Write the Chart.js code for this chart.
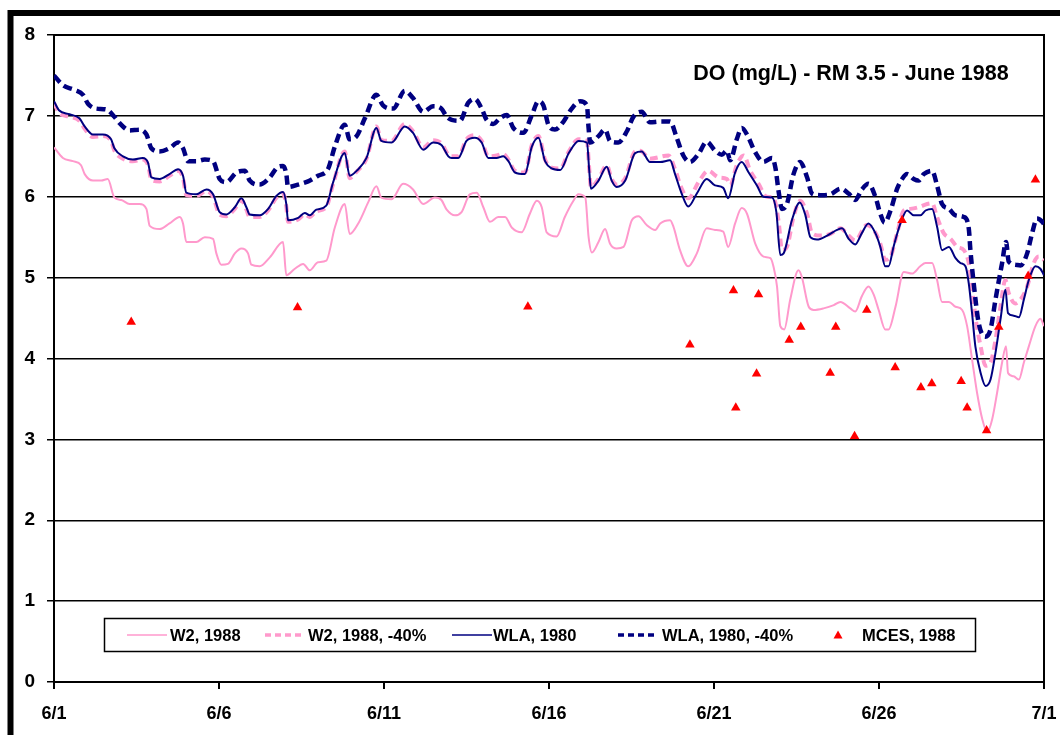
<!DOCTYPE html>
<html>
<head>
<meta charset="utf-8">
<title>DO (mg/L) - RM 3.5 - June 1988</title>
<script src="https://cdn.jsdelivr.net/npm/chart.js@4.4.1/dist/chart.umd.min.js"></script>
<style>
  html, body { margin: 0; padding: 0; background: #fff; }
  #doChart { display: block; }
</style>
</head>
<body>
<canvas id="doChart" width="1060" height="735"></canvas>
<script>
// [day after 6/1, DO mg/L]
const w2_1988 = [
  [0,6.61],[0.27,6.48],[0.57,6.44],[0.82,6.39],[0.93,6.28],[1.18,6.20],[1.43,6.20],[1.63,6.22],[1.83,5.99],[2.04,5.96],
  [2.29,5.91],[2.59,5.91],[2.8,5.85],[2.9,5.64],[3.2,5.60],[3.5,5.67],[3.81,5.75],[3.91,5.67],[4.01,5.44],[4.31,5.44],
  [4.57,5.50],[4.82,5.48],[4.92,5.30],[5.07,5.16],[5.27,5.17],[5.48,5.30],[5.68,5.36],[5.88,5.30],[5.98,5.16],[6.23,5.14],
  [6.54,5.25],[6.94,5.44],[7.04,5.03],[7.3,5.11],[7.55,5.17],[7.75,5.09],[8.0,5.19],[8.25,5.21],[8.51,5.62],[8.81,5.91],
  [8.96,5.54],[9.22,5.67],[9.52,5.93],[9.77,6.13],[9.92,5.99],[10.23,5.97],[10.58,6.16],[10.88,6.09],[11.19,5.91],[11.54,5.99],
  [11.74,5.96],[11.9,5.84],[12.15,5.77],[12.35,5.81],[12.6,6.03],[12.81,6.05],[13.01,5.87],[13.21,5.69],[13.46,5.75],[13.67,5.75],
  [13.87,5.62],[14.17,5.56],[14.42,5.79],[14.63,5.95],[14.78,5.87],[14.93,5.56],[15.23,5.51],[15.48,5.75],[15.74,5.95],[15.89,6.03],
  [16.1,5.99],[16.2,5.50],[16.3,5.31],[16.5,5.44],[16.7,5.60],[16.85,5.42],[17.05,5.36],[17.26,5.38],[17.51,5.71],[17.71,5.76],
  [17.96,5.65],[18.22,5.59],[18.37,5.67],[18.67,5.71],[18.77,5.63],[18.97,5.34],[19.22,5.14],[19.48,5.30],[19.78,5.61],[20.03,5.59],
  [20.28,5.57],[20.43,5.38],[20.64,5.67],[20.84,5.86],[21.0,5.79],[21.25,5.42],[21.5,5.26],[21.71,5.24],[21.8,5.14],[21.91,4.89],
  [22.01,4.40],[22.13,4.36],[22.31,4.73],[22.56,5.09],[22.66,5.01],[22.87,4.64],[23.02,4.60],[23.32,4.62],[23.63,4.66],[23.83,4.70],
  [24.13,4.62],[24.28,4.58],[24.48,4.77],[24.68,4.89],[24.84,4.79],[24.99,4.60],[25.19,4.36],[25.29,4.36],[25.5,4.64],[25.75,5.07],
  [26.0,5.05],[26.25,5.14],[26.41,5.18],[26.61,5.18],[26.76,4.97],[26.91,4.70],[27.12,4.70],[27.32,4.64],[27.52,4.60],[27.67,4.40],
  [27.82,3.99],[27.97,3.58],[28.13,3.25],[28.28,3.09],[28.43,3.25],[28.58,3.58],[28.73,3.95],[28.85,4.15],[28.91,3.82],[29.08,3.78],
  [29.24,3.74],[29.39,3.95],[29.54,4.15],[29.74,4.40],[29.89,4.49],[30,4.40]
];

const w2_1988_cut = [
  [0,7.16],[0.15,7.04],[0.47,6.99],[0.77,6.94],[0.93,6.84],[1.18,6.74],[1.48,6.75],[1.73,6.69],[1.83,6.57],[2.09,6.47],
  [2.39,6.44],[2.69,6.46],[2.85,6.39],[2.95,6.21],[3.2,6.19],[3.5,6.26],[3.76,6.32],[3.91,6.23],[4.01,6.02],[4.31,6.01],
  [4.62,6.07],[4.82,6.00],[5.02,5.78],[5.22,5.76],[5.48,5.85],[5.68,5.96],[5.83,5.84],[5.93,5.75],[6.23,5.75],[6.49,5.83],
  [6.74,5.99],[6.94,6.04],[7.04,5.88],[7.09,5.69],[7.40,5.72],[7.6,5.78],[7.75,5.75],[7.95,5.82],[8.25,5.87],[8.46,6.16],
  [8.81,6.56],[8.96,6.23],[9.17,6.31],[9.47,6.47],[9.77,6.87],[9.92,6.70],[10.23,6.69],[10.63,6.90],[10.88,6.81],[11.19,6.61],
  [11.49,6.70],[11.74,6.66],[11.95,6.52],[12.05,6.50],[12.25,6.50],[12.5,6.71],[12.75,6.76],[12.96,6.69],[13.16,6.50],[13.41,6.51],
  [13.61,6.53],[13.77,6.46],[13.97,6.32],[14.27,6.30],[14.48,6.64],[14.68,6.75],[14.88,6.46],[15.08,6.36],[15.34,6.35],[15.6,6.56],
  [15.9,6.71],[16.15,6.69],[16.22,6.34],[16.27,6.12],[16.5,6.22],[16.75,6.39],[16.9,6.22],[17.05,6.15],[17.31,6.23],[17.61,6.56],
  [17.76,6.57],[18.06,6.47],[18.62,6.51],[18.82,6.34],[19.02,6.10],[19.22,5.98],[19.53,6.18],[19.83,6.32],[20.14,6.24],[20.39,6.22],
  [20.49,6.14],[20.69,6.39],[20.9,6.51],[21.1,6.32],[21.35,6.16],[21.6,6.00],[21.8,5.99],[21.96,5.69],[22.06,5.34],[22.21,5.38],
  [22.41,5.75],[22.61,5.95],[22.82,5.79],[22.97,5.55],[23.22,5.52],[23.53,5.54],[23.83,5.61],[24.08,5.52],[24.28,5.46],[24.63,5.65],
  [24.84,5.59],[25.04,5.42],[25.19,5.22],[25.35,5.26],[25.55,5.55],[25.75,5.83],[25.95,5.85],[26.2,5.87],[26.46,5.91],[26.61,5.92],
  [26.76,5.75],[26.96,5.55],[27.17,5.48],[27.37,5.38],[27.57,5.34],[27.72,5.18],[27.82,4.89],[27.92,4.52],[28.08,4.15],[28.23,3.91],
  [28.38,3.95],[28.53,4.23],[28.68,4.64],[28.83,4.97],[28.93,4.81],[29.13,4.68],[29.29,4.73],[29.49,4.89],[29.69,5.18],[29.84,5.26],
  [30,5.22]
];

const wla_1980 = [
  [0,7.18],[0.15,7.07],[0.47,7.02],[0.77,6.97],[0.93,6.87],[1.18,6.77],[1.48,6.77],[1.73,6.71],[1.83,6.60],[2.09,6.50],
  [2.39,6.46],[2.69,6.48],[2.85,6.42],[2.95,6.24],[3.2,6.22],[3.5,6.28],[3.76,6.34],[3.91,6.26],[4.01,6.05],[4.31,6.03],
  [4.62,6.09],[4.82,6.03],[5.02,5.81],[5.22,5.78],[5.48,5.87],[5.68,5.98],[5.83,5.87],[5.93,5.78],[6.23,5.77],[6.49,5.85],
  [6.74,6.01],[6.94,6.06],[7.04,5.91],[7.09,5.71],[7.40,5.74],[7.6,5.80],[7.75,5.77],[7.95,5.84],[8.25,5.89],[8.46,6.18],
  [8.81,6.54],[8.96,6.26],[9.17,6.32],[9.47,6.48],[9.77,6.85],[9.92,6.69],[10.23,6.67],[10.63,6.87],[10.88,6.79],[11.19,6.58],
  [11.49,6.67],[11.74,6.64],[11.95,6.50],[12.05,6.48],[12.25,6.48],[12.5,6.69],[12.75,6.73],[12.96,6.67],[13.16,6.48],[13.41,6.48],
  [13.61,6.50],[13.77,6.44],[13.97,6.30],[14.27,6.28],[14.48,6.62],[14.68,6.73],[14.88,6.44],[15.08,6.35],[15.34,6.33],[15.6,6.54],
  [15.9,6.69],[16.15,6.67],[16.22,6.32],[16.27,6.10],[16.5,6.20],[16.75,6.37],[16.9,6.20],[17.05,6.12],[17.31,6.20],[17.61,6.54],
  [17.81,6.56],[18.06,6.43],[18.37,6.43],[18.67,6.45],[18.82,6.28],[19.02,6.04],[19.22,5.88],[19.48,6.04],[19.78,6.22],[20.03,6.14],
  [20.28,6.11],[20.43,5.98],[20.64,6.30],[20.84,6.43],[21.05,6.30],[21.3,6.14],[21.5,6.00],[21.76,5.99],[21.89,5.81],[22.01,5.28],
  [22.11,5.30],[22.36,5.71],[22.6,5.93],[22.77,5.77],[22.92,5.50],[23.12,5.47],[23.43,5.52],[23.73,5.59],[23.88,5.61],[24.08,5.48],
  [24.28,5.41],[24.48,5.55],[24.68,5.67],[24.89,5.55],[25.04,5.38],[25.19,5.14],[25.29,5.14],[25.44,5.38],[25.65,5.67],[25.85,5.83],
  [26.05,5.77],[26.25,5.77],[26.41,5.83],[26.61,5.85],[26.76,5.63],[26.91,5.34],[27.12,5.38],[27.32,5.24],[27.47,5.18],[27.62,5.14],
  [27.72,4.93],[27.82,4.56],[27.92,4.15],[28.08,3.82],[28.23,3.66],[28.38,3.74],[28.53,4.07],[28.68,4.48],[28.83,4.85],[28.91,4.56],
  [29.08,4.53],[29.24,4.51],[29.39,4.73],[29.54,4.97],[29.74,5.14],[29.89,5.11],[30,5.03]
];

const wla_1980_cut = [
  [0,7.50],[0.27,7.38],[0.62,7.32],[0.88,7.26],[1.03,7.15],[1.28,7.09],[1.58,7.08],[1.83,6.99],[1.99,6.91],[2.29,6.82],
  [2.59,6.83],[2.8,6.77],[2.95,6.60],[3.2,6.56],[3.5,6.60],[3.76,6.67],[3.91,6.60],[4.06,6.44],[4.31,6.44],[4.57,6.46],
  [4.82,6.44],[5.02,6.22],[5.22,6.18],[5.53,6.30],[5.78,6.32],[5.93,6.20],[6.23,6.15],[6.54,6.24],[6.79,6.37],[6.94,6.38],
  [7.04,6.28],[7.09,6.12],[7.40,6.15],[7.70,6.19],[8.0,6.26],[8.3,6.34],[8.51,6.62],[8.81,6.89],[8.96,6.71],[9.17,6.75],
  [9.42,6.97],[9.77,7.26],[9.97,7.13],[10.28,7.09],[10.63,7.31],[10.88,7.22],[11.19,7.05],[11.49,7.12],[11.74,7.09],[11.9,6.99],
  [12.05,6.95],[12.30,6.94],[12.55,7.16],[12.75,7.21],[12.96,7.09],[13.11,6.95],[13.31,6.90],[13.51,6.97],[13.72,7.01],[13.92,6.85],
  [14.22,6.79],[14.48,7.01],[14.68,7.18],[14.83,7.13],[14.98,6.89],[15.18,6.83],[15.44,6.93],[15.69,7.09],[15.94,7.18],[16.15,7.13],
  [16.2,6.85],[16.25,6.67],[16.5,6.75],[16.7,6.83],[16.85,6.69],[17.1,6.67],[17.36,6.81],[17.56,6.99],[17.81,7.05],[18.06,6.92],
  [18.37,6.93],[18.67,6.93],[18.87,6.73],[19.07,6.51],[19.27,6.43],[19.53,6.53],[19.78,6.68],[20.03,6.57],[20.24,6.52],[20.39,6.57],
  [20.49,6.45],[20.69,6.71],[20.84,6.85],[21.0,6.77],[21.25,6.55],[21.5,6.43],[21.76,6.48],[21.86,6.36],[21.96,6.06],[22.06,5.85],
  [22.21,5.91],[22.41,6.28],[22.61,6.43],[22.82,6.24],[22.97,6.04],[23.22,6.02],[23.53,6.03],[23.83,6.10],[24.08,6.04],[24.28,5.96],
  [24.48,6.09],[24.68,6.16],[24.89,6.00],[25.04,5.79],[25.17,5.68],[25.35,5.83],[25.55,6.10],[25.7,6.22],[25.85,6.28],[26.05,6.22],
  [26.2,6.20],[26.36,6.28],[26.61,6.32],[26.76,6.14],[26.91,5.91],[27.12,5.85],[27.32,5.77],[27.57,5.75],[27.72,5.61],[27.77,5.34],
  [27.88,4.89],[28.02,4.44],[28.22,4.27],[28.38,4.36],[28.53,4.73],[28.73,5.18],[28.85,5.44],[28.93,5.20],[29.13,5.16],[29.29,5.15],
  [29.49,5.30],[29.64,5.55],[29.79,5.73],[29.95,5.69],[30,5.66]
];

const mces_1988 = [
  [2.34,4.45],[7.38,4.63],[14.36,4.64],[19.27,4.17],[20.59,4.84],[20.66,3.39],[21.29,3.81],[21.35,4.79],
  [22.28,4.23],[22.63,4.39],[23.52,3.82],[23.69,4.39],[24.26,3.04],[24.63,4.60],[25.49,3.89],[25.70,5.71],
  [26.27,3.64],[26.6,3.69],[27.49,3.72],[27.67,3.39],[28.26,3.11],[28.63,4.39],[29.52,5.02],[29.74,6.21]
];

const tickLabels = ['6/1', '6/6', '6/11', '6/16', '6/21', '6/26', '7/1'];
const seriesNames = ['W2, 1988', 'W2, 1988, -40%', 'WLA, 1980', 'WLA, 1980, -40%', 'MCES, 1988'];
const titleText = 'DO (mg/L) - RM 3.5 - June 1988';

const PINK = '#ff99cc';
const NAVY = '#000080';
const RED = '#ff0000';
const FONT = '"Liberation Sans", Arial, sans-serif';

function toPoints(pairs) {
    return pairs.map(p => ({ x: p[0], y: p[1] }));
}

// outer frame, plot border and title
const framePlugin = {
    id: 'frame',
    beforeDraw(chart) {
        let c = chart.ctx;
        c.save();
        c.fillStyle = '#fff';
        c.fillRect(0, 0, chart.width, chart.height);
        c.strokeStyle = '#000';
        c.lineWidth = 6;
        c.strokeRect(10.5, 13, chart.width + 40, chart.height + 40);
        c.restore();
    },
    beforeDatasetsDraw(chart) {
        let a = chart.chartArea;
        let c = chart.ctx;
        c.save();
        c.strokeStyle = '#000';
        c.lineWidth = 2;
        c.strokeRect(a.left, a.top, a.right - a.left, a.bottom - a.top);
        c.restore();
    },
    afterDraw(chart) {
        let c = chart.ctx;
        c.save();
        c.fillStyle = '#000';
        c.font = 'bold 21.5px ' + FONT;
        c.textAlign = 'center';
        c.textBaseline = 'middle';
        c.fillText(titleText, 851, 74);
        c.restore();
    }
};

// boxed legend inside the plot, one row
const legendPlugin = {
    id: 'boxLegend',
    afterDraw(chart) {
        let c = chart.ctx;
        let y = 635;
        let items = [
            { line: 127, text: 170 },
            { line: 265, text: 308 },
            { line: 452, text: 493 },
            { line: 618, text: 662 },
            { line: 838, text: 862 }
        ];
        c.save();
        c.fillStyle = '#fff';
        c.fillRect(104, 618, 871, 33);
        c.strokeStyle = '#000';
        c.lineWidth = 1.5;
        c.strokeRect(104.5, 618.5, 871, 33);
        chart.data.datasets.forEach((ds, i) => {
            let it = items[i];
            if (ds.showLine === false) {
                c.fillStyle = ds.pointBackgroundColor;
                c.beginPath();
                c.moveTo(it.line, y - 4.5);
                c.lineTo(it.line + 4.5, y + 3.5);
                c.lineTo(it.line - 4.5, y + 3.5);
                c.closePath();
                c.fill();
            } else {
                c.strokeStyle = ds.borderColor;
                c.lineWidth = ds.borderDash ? 3.5 : 1.5;
                c.setLineDash(ds.borderDash ? [6, 4] : []);
                c.beginPath();
                c.moveTo(it.line, y);
                c.lineTo(it.line + 40, y);
                c.stroke();
                c.setLineDash([]);
            }
            c.fillStyle = '#000';
            c.font = 'bold 16.5px ' + FONT;
            c.textAlign = 'left';
            c.textBaseline = 'middle';
            c.fillText(ds.label, it.text, y + 1);
        });
        c.restore();
    }
};

let ctx = document.getElementById('doChart').getContext('2d');
let doChart = new Chart(ctx, {
    type: 'line',
    data: {
        datasets: [
            {
                label: seriesNames[0],
                data: toPoints(w2_1988),
                borderColor: PINK,
                borderWidth: 2,
                pointRadius: 0,
                order: 4
            },
            {
                label: seriesNames[1],
                data: toPoints(w2_1988_cut),
                borderColor: PINK,
                borderWidth: 4,
                borderDash: [8, 5],
                pointRadius: 0,
                order: 3
            },
            {
                label: seriesNames[2],
                data: toPoints(wla_1980),
                borderColor: NAVY,
                borderWidth: 2,
                pointRadius: 0,
                order: 2
            },
            {
                label: seriesNames[3],
                data: toPoints(wla_1980_cut),
                borderColor: NAVY,
                borderWidth: 4.5,
                borderDash: [9, 5],
                pointRadius: 0,
                order: 1
            },
            {
                label: seriesNames[4],
                data: toPoints(mces_1988),
                showLine: false,
                pointStyle: 'triangle',
                pointRadius: 5.5,
                pointBackgroundColor: RED,
                pointBorderColor: RED,
                pointBorderWidth: 0,
                order: 0
            }
        ]
    },
    options: {
        responsive: false,
        animation: false,
        devicePixelRatio: 1,
        layout: { padding: { top: 35, right: 16, bottom: 0, left: 0 } },
        elements: { line: { cubicInterpolationMode: 'monotone' } },
        plugins: {
            legend: { display: false },
            tooltip: { enabled: false }
        },
        scales: {
            x: {
                type: 'linear',
                min: 0,
                max: 30,
                afterFit: function(scale) {
                    scale.height = 53;
                    scale.paddingLeft = 0;
                    scale.paddingRight = 0;
                },
                border: { display: true, color: '#000', width: 2 },
                grid: { drawOnChartArea: false, drawTicks: true, tickLength: 7, color: '#000', lineWidth: 2 },
                ticks: {
                    stepSize: 5,
                    autoSkip: false,
                    maxRotation: 0,
                    padding: 14,
                    color: '#000',
                    font: { family: FONT, size: 18, weight: 'bold' },
                    callback: function(value) {
                        return tickLabels[value / 5] || '';
                    }
                }
            },
            y: {
                min: 0,
                max: 8,
                afterFit: function(scale) {
                    scale.width = 54;
                    scale.paddingTop = 0;
                    scale.paddingBottom = 0;
                },
                border: { display: true, color: '#000', width: 2 },
                grid: { color: '#000', lineWidth: 1.5, tickLength: 7 },
                ticks: {
                    stepSize: 1,
                    padding: 12,
                    color: '#000',
                    font: { family: FONT, size: 19, weight: 'bold' }
                }
            }
        }
    },
    plugins: [framePlugin, legendPlugin]
});
</script>
</body>
</html>
